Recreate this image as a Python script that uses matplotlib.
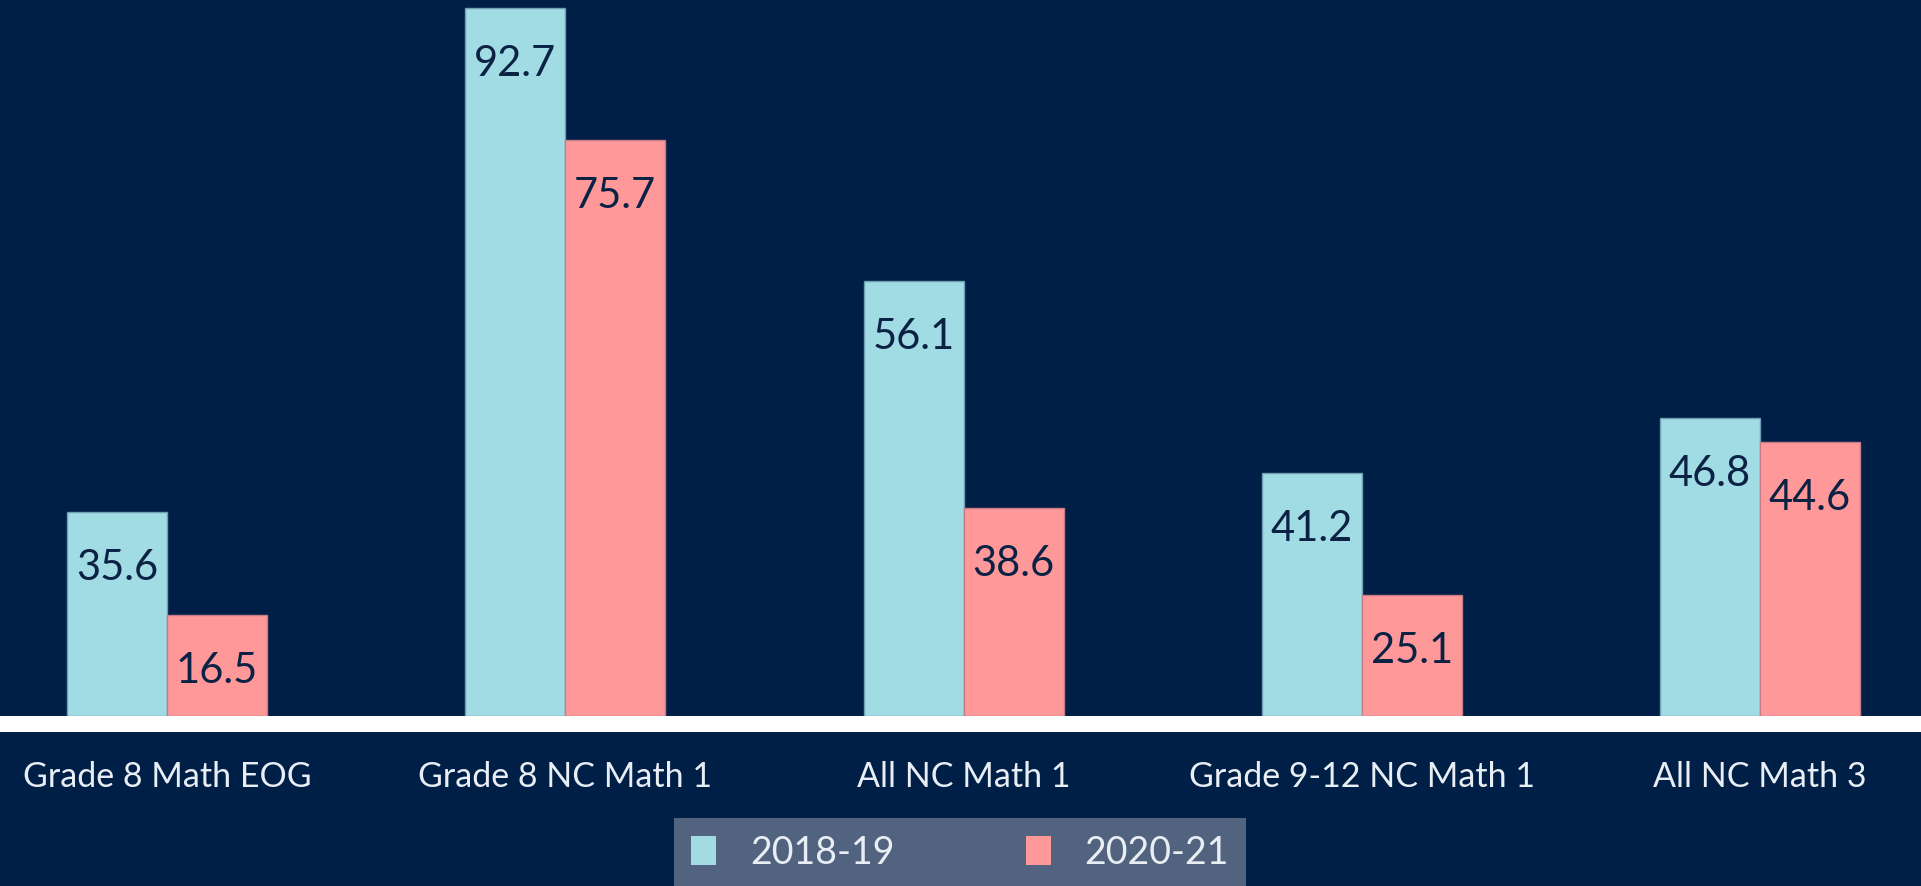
import matplotlib
matplotlib.use("Agg")
import matplotlib.pyplot as plt
from matplotlib.patches import Rectangle, Patch
import numpy as np

# ---- data -------------------------------------------------------------
categories = ["Grade 8 Math EOG", "Grade 8 NC Math 1", "All NC Math 1",
              "Grade 9-12 NC Math 1", "All NC Math 3"]
series_names = ["2018-19", "2020-21"]
# values printed on the bars
labels_2018 = [35.6, 92.7, 56.1, 41.2, 46.8]
labels_2020 = [16.5, 75.7, 38.6, 25.1, 44.6]
# bar heights as drawn in the source picture (they are not proportional to the labels)
heights_2018 = [26.7, 92.7, 56.9, 31.8, 39.0]
heights_2020 = [13.2, 75.4, 27.2, 15.8, 35.9]

# ---- style ------------------------------------------------------------
BG = "#001F47"
CYAN = "#A1DBE3"
PINK = "#FF9999"
CYAN_EDGE = "#6F9DB3"
PINK_EDGE = "#C77B86"
LABEL_TXT = "#0B2245"
TICK_TXT = "#E8EEF4"
LEG_BG = "#51637F"

plt.rcParams["font.family"] = ["Lato", "DejaVu Sans"]

W, H, DPI = 1921, 887, 100
fig = plt.figure(figsize=(W / DPI, H / DPI), dpi=DPI, facecolor=BG)

base_px = 717          # baseline, px from top
ax = fig.add_axes([0, (H - base_px) / H, 1, base_px / H])
ax.set_facecolor(BG)

first_c, step = 167.0, 398.25   # px
bar_px = 100.0
px_per_unit = 7.64
ax.set_xlim(-first_c / step, (W - first_c) / step)
ax.set_ylim(0, base_px / px_per_unit)

x = np.arange(len(categories))
bw = bar_px / step
b1 = ax.bar(x - bw / 2, heights_2018, bw, color=CYAN, edgecolor=CYAN_EDGE, linewidth=1.0)
b2 = ax.bar(x + bw / 2, heights_2020, bw, color=PINK, edgecolor=PINK_EDGE, linewidth=1.0)

for bars, labs in ((b1, labels_2018), (b2, labels_2020)):
    for rect, v in zip(bars, labs):
        ax.annotate(f"{v:.1f}", (rect.get_x() + rect.get_width() / 2, rect.get_height()),
                    xytext=(0, -26), textcoords="offset points", ha="center", va="top",
                    fontsize=30, color=LABEL_TXT)

for s in ax.spines.values():
    s.set_visible(False)
ax.set_yticks([])
ax.set_xticks(x, categories)
ax.tick_params(axis="x", length=0, pad=32, labelsize=24.5, labelcolor=TICK_TXT)

# white baseline band
fig.patches.append(Rectangle((0, (H - 733) / H), 1, 16 / H, transform=fig.transFigure,
                             facecolor="white", edgecolor="none", zorder=5))

handles = [Patch(facecolor=CYAN, edgecolor="none"), Patch(facecolor=PINK, edgecolor="none")]
leg = fig.legend(handles, series_names, loc="center", bbox_to_anchor=(960 / W, 1 - 853.5 / H),
                 ncol=2, frameon=True, fancybox=False, facecolor=LEG_BG, edgecolor=LEG_BG,
                 framealpha=1, fontsize=27, labelcolor=TICK_TXT,
                 handlelength=0.67, handleheight=0.8, handletextpad=0.9,
                 columnspacing=3.5, borderpad=0.45, borderaxespad=0)
leg.get_frame().set_linewidth(0)

fig.savefig("out.png", dpi=DPI, facecolor=BG)
